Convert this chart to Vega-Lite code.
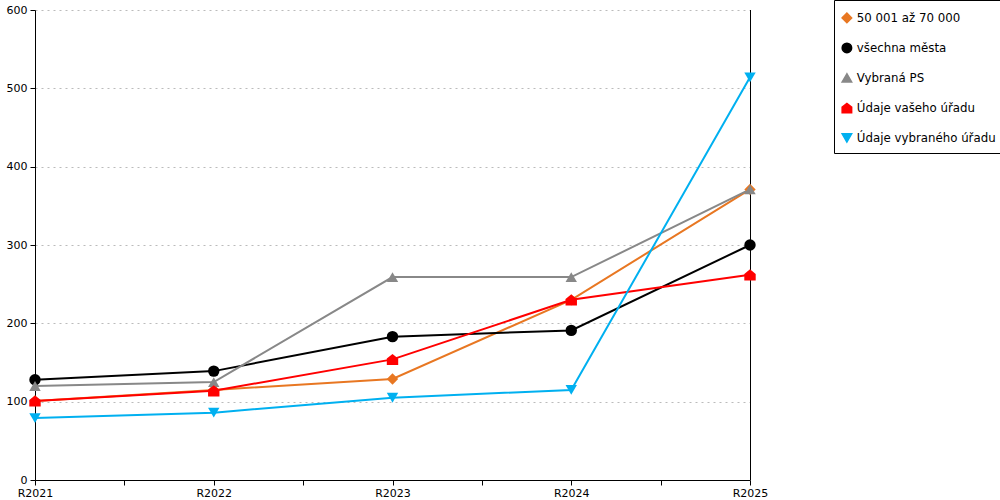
{
  "$schema": "https://vega.github.io/schema/vega-lite/v6.json",
  "width": 715,
  "height": 470,
  "autosize": {"type": "none"},
  "padding": {"left": 35, "top": 10, "right": 250, "bottom": 20},
  "background": "white",
  "data": {
    "values": [
      {"rok": 2021, "rada": "50 001 až 70 000", "hodnota": 101},
      {"rok": 2022, "rada": "50 001 až 70 000", "hodnota": 115},
      {"rok": 2023, "rada": "50 001 až 70 000", "hodnota": 129},
      {"rok": 2024, "rada": "50 001 až 70 000", "hodnota": 230},
      {"rok": 2025, "rada": "50 001 až 70 000", "hodnota": 371},
      {"rok": 2021, "rada": "všechna města", "hodnota": 128},
      {"rok": 2022, "rada": "všechna města", "hodnota": 139},
      {"rok": 2023, "rada": "všechna města", "hodnota": 183},
      {"rok": 2024, "rada": "všechna města", "hodnota": 191},
      {"rok": 2025, "rada": "všechna města", "hodnota": 300},
      {"rok": 2021, "rada": "Vybraná PS", "hodnota": 120},
      {"rok": 2022, "rada": "Vybraná PS", "hodnota": 125},
      {"rok": 2023, "rada": "Vybraná PS", "hodnota": 259},
      {"rok": 2024, "rada": "Vybraná PS", "hodnota": 259},
      {"rok": 2025, "rada": "Vybraná PS", "hodnota": 371},
      {"rok": 2021, "rada": "Údaje vašeho úřadu", "hodnota": 101},
      {"rok": 2022, "rada": "Údaje vašeho úřadu", "hodnota": 114},
      {"rok": 2023, "rada": "Údaje vašeho úřadu", "hodnota": 154},
      {"rok": 2024, "rada": "Údaje vašeho úřadu", "hodnota": 230},
      {"rok": 2025, "rada": "Údaje vašeho úřadu", "hodnota": 262},
      {"rok": 2021, "rada": "Údaje vybraného úřadu", "hodnota": 79},
      {"rok": 2022, "rada": "Údaje vybraného úřadu", "hodnota": 86},
      {"rok": 2023, "rada": "Údaje vybraného úřadu", "hodnota": 105},
      {"rok": 2024, "rada": "Údaje vybraného úřadu", "hodnota": 115},
      {"rok": 2025, "rada": "Údaje vybraného úřadu", "hodnota": 514}
    ]
  },
  "encoding": {
    "x": {
      "field": "rok",
      "type": "quantitative",
      "title": null,
      "scale": {"domain": [2021, 2025], "nice": false, "zero": false},
      "axis": {
        "values": [2021, 2021.5, 2022, 2022.5, 2023, 2023.5, 2024, 2024.5, 2025],
        "labelExpr": "datum.value % 1 == 0 ? 'R' + datum.value : ''",
        "grid": false,
        "domainColor": "black",
        "tickColor": "black",
        "tickSize": 5,
        "labelPadding": 2,
        "labelFlush": false
      }
    },
    "y": {
      "field": "hodnota",
      "type": "quantitative",
      "title": null,
      "scale": {"domain": [0, 600], "nice": false},
      "axis": {
        "values": [0, 100, 200, 300, 400, 500, 600],
        "grid": true,
        "gridColor": "#bbbbbb",
        "gridDash": [2, 4],
        "domainColor": "black",
        "tickColor": "black",
        "tickSize": 5,
        "labelPadding": 3
      }
    }
  },
  "layer": [
    {
      "data": {"values": [{"rok": 2025}]},
      "mark": {"type": "rule", "color": "black", "strokeWidth": 1, "xOffset": 0.5},
      "encoding": {"x": {"field": "rok", "type": "quantitative"}, "y": null}
    },
    {
      "mark": {"type": "line", "strokeWidth": 2},
      "encoding": {
        "color": {
          "field": "rada",
          "type": "nominal",
          "scale": {
            "domain": ["50 001 až 70 000", "všechna města", "Vybraná PS", "Údaje vašeho úřadu", "Údaje vybraného úřadu"],
            "range": ["#e87722", "#000000", "#888888", "#ff0000", "#00b0f0"]
          },
          "legend": {
            "title": " ",
            "titleFontSize": 5,
            "titlePadding": 0,
            "orient": "none",
            "legendX": 799,
            "legendY": -10,
            "strokeColor": "black",
            "padding": 7,
            "rowPadding": 14,
            "symbolSize": 90,
            "labelOffset": 4,
            "labelFontSize": 11.8,
            "labelColor": "black",
            "labelLimit": 200
          }
        }
      }
    },
    {
      "mark": {"type": "point", "filled": true, "opacity": 1, "size": 130},
      "encoding": {
        "shape": {
          "field": "rada",
          "type": "nominal",
          "scale": {
            "domain": ["50 001 až 70 000", "všechna města", "Vybraná PS", "Údaje vašeho úřadu", "Údaje vybraného úřadu"],
            "range": ["diamond", "circle", "triangle-up", "M-1,1L-1,-0.15L0,-0.95L1,-0.15L1,1Z", "triangle-down"]
          },
          "legend": {
            "title": " ",
            "titleFontSize": 5,
            "titlePadding": 0,
            "orient": "none",
            "legendX": 799,
            "legendY": -10,
            "strokeColor": "black",
            "padding": 7,
            "rowPadding": 14,
            "symbolSize": 90,
            "labelOffset": 4,
            "labelFontSize": 11.8,
            "labelColor": "black",
            "labelLimit": 200
          }
        },
        "color": {
          "field": "rada",
          "type": "nominal",
          "scale": {
            "domain": ["50 001 až 70 000", "všechna města", "Vybraná PS", "Údaje vašeho úřadu", "Údaje vybraného úřadu"],
            "range": ["#e87722", "#000000", "#888888", "#ff0000", "#00b0f0"]
          },
          "legend": {
            "title": " ",
            "titleFontSize": 5,
            "titlePadding": 0,
            "orient": "none",
            "legendX": 799,
            "legendY": -10,
            "strokeColor": "black",
            "padding": 7,
            "rowPadding": 14,
            "symbolSize": 90,
            "labelOffset": 4,
            "labelFontSize": 11.8,
            "labelColor": "black",
            "labelLimit": 200
          }
        }
      }
    }
  ],
  "config": {
    "font": "DejaVu Sans",
    "view": {"stroke": null},
    "axis": {"labelFontSize": 11, "labelColor": "black", "labelFont": "DejaVu Sans"},
    "legend": {"labelFont": "DejaVu Sans"}
  }
}
